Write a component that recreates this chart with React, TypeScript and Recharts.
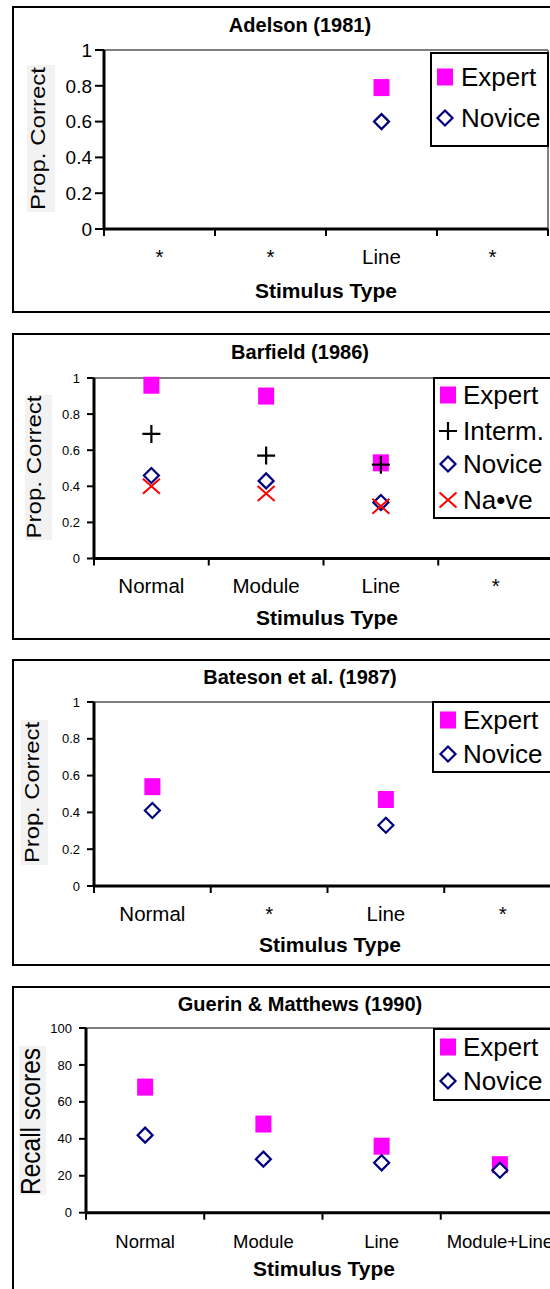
import React from 'react';
import { ScatterChart, Scatter, XAxis, YAxis, ReferenceLine, Legend } from 'recharts';

const FONT = '"Liberation Sans", Arial, Helvetica, sans-serif';

// Adelson (1981)
const adelsonCategories = ['*', '*', 'Line', '*'];
const adelsonExpert = [null, null, 0.79, null];
const adelsonNovice = [null, null, 0.6, null];

// Barfield (1986)
const barfieldCategories = ['Normal', 'Module', 'Line', '*'];
const barfieldExpert = [0.96, 0.9, 0.53, null];
const barfieldInterm = [0.69, 0.57, 0.52, null];
const barfieldNovice = [0.46, 0.43, 0.31, null];
const barfieldNaive = [0.4, 0.36, 0.29, null];

// Bateson et al. (1987)
const batesonCategories = ['Normal', '*', 'Line', '*'];
const batesonExpert = [0.54, null, 0.47, null];
const batesonNovice = [0.41, null, 0.33, null];

// Guerin & Matthews (1990)
const guerinCategories = ['Normal', 'Module', 'Line', 'Module+Line'];
const guerinExpert = [68, 48, 36, 26];
const guerinNovice = [42, 29, 27, 23];

const propTicks = [0, 0.2, 0.4, 0.6, 0.8, 1];
const recallTicks = [0, 20, 40, 60, 80, 100];
// integer = tick mark between categories, .5 = category label
const xTicks = [0, 0.5, 1, 1.5, 2, 2.5, 3, 3.5, 4];

type MarkerKind = 'square' | 'plus' | 'diamond' | 'cross';

interface Series {
  name: string;
  kind: MarkerKind;
  values: (number | null)[];
}

const Marker = ({ kind, cx, cy }: { kind: MarkerKind; cx: number; cy: number }) => {
  if (kind === 'square') {
    return <rect x={cx - 8} y={cy - 8.5} width={16} height={17} fill="#FF00FF" />;
  }
  if (kind === 'plus') {
    return (
      <path d={`M${cx - 9},${cy}H${cx + 9}M${cx},${cy - 9}V${cy + 9}`} stroke="#000" strokeWidth={2.2} fill="none" />
    );
  }
  if (kind === 'diamond') {
    return (
      <path
        d={`M${cx},${cy - 7.5}L${cx + 7.5},${cy}L${cx},${cy + 7.5}L${cx - 7.5},${cy}Z`}
        stroke="#000080"
        strokeWidth={2.2}
        fill="#fff"
      />
    );
  }
  return (
    <path
      d={`M${cx - 8.5},${cy - 7.5}L${cx + 8.5},${cy + 7.5}M${cx + 8.5},${cy - 7.5}L${cx - 8.5},${cy + 7.5}`}
      stroke="#FF0000"
      strokeWidth={2}
      fill="none"
    />
  );
};

interface Layout {
  top: number;
  titleY: number;
  plotLeft: number;
  plotTop: number;
  plotBottom: number;
  plotRight: number;
  yTickFont: number;
  yTickSize: number;
  yTickMargin: number;
  xLabelY: number;
  xLabelFont: number;
  axisTitleX: number;
  axisTitleY: number;
  yTitle: { cx: number; cy: number; len: number; font: number; bg: number[] };
  legend: { left: number; top: number; width: number; height: number; iconX: number; textX: number; rows: number[] };
}

const CHART_W = 620;
const CHART_H = 310;

interface PanelProps {
  title: string;
  categories: string[];
  series: Series[];
  yTicks: number[];
  yLabel: string;
  layout: Layout;
}

const Panel = ({ title, categories, series, yTicks, yLabel, layout: L }: PanelProps) => {
  const yMax = yTicks[yTicks.length - 1];
  const toChart = (pageY: number) => pageY - L.top;

  const renderXTick = (props: any) => {
    const { x, y, payload } = props;
    const v = payload.value as number;
    if (Number.isInteger(v)) {
      return <line x1={x} x2={x} y1={y} y2={y + 7} stroke="#000" strokeWidth={2} />;
    }
    const dy = L.xLabelY - L.plotBottom + L.xLabelFont * 0.36;
    return (
      <text x={x} y={y + dy} textAnchor="middle" fontSize={L.xLabelFont} fontFamily={FONT} fill="#000">
        {categories[Math.floor(v)]}
      </text>
    );
  };

  const renderYTitle = () => {
    const t = L.yTitle;
    const cy = toChart(t.cy);
    return (
      <g>
        <rect x={t.bg[0]} y={toChart(t.bg[1])} width={t.bg[2]} height={t.bg[3]} fill="#f2f2f2" />
        <text
          x={t.cx}
          y={cy}
          transform={`rotate(-90 ${t.cx} ${cy})`}
          textAnchor="middle"
          dominantBaseline="central"
          fontSize={t.font}
          fontFamily={FONT}
          textLength={t.len}
          lengthAdjust="spacingAndGlyphs"
          fill="#000"
        >
          {yLabel}
        </text>
      </g>
    );
  };

  const renderXTitle = () => (
    <text
      x={L.axisTitleX}
      y={toChart(L.axisTitleY) + 21 * 0.36}
      textAnchor="middle"
      fontSize={21}
      fontWeight="bold"
      fontFamily={FONT}
      fill="#000"
    >
      Stimulus Type
    </text>
  );

  const lg = L.legend;
  const renderLegend = () => (
    <div
      style={{
        position: 'relative',
        width: lg.width,
        height: lg.height,
        border: '2px solid #000',
        boxSizing: 'border-box',
        background: '#fff',
        fontFamily: FONT,
      }}
    >
      {series.map((s, i) => {
        const rowY = lg.rows[i] - lg.top - 2;
        return (
          <React.Fragment key={s.name}>
            <svg
              width={24}
              height={24}
              style={{ position: 'absolute', left: lg.iconX - lg.left - 2 - 12, top: rowY - 12 }}
            >
              <Marker kind={s.kind} cx={12} cy={12} />
            </svg>
            <span
              style={{
                position: 'absolute',
                left: lg.textX - lg.left - 2,
                top: rowY - 15,
                lineHeight: '30px',
                fontSize: 26,
                whiteSpace: 'nowrap',
                color: '#000',
              }}
            >
              {s.name}
            </span>
          </React.Fragment>
        );
      })}
    </div>
  );

  const plotBottomRel = L.plotBottom - L.top;

  return (
    <>
      <div
        style={{
          position: 'absolute',
          left: 12,
          top: L.top - 1,
          width: 620,
          height: 307,
          border: '2px solid #000',
          boxSizing: 'border-box',
        }}
      />
      <div
        style={{
          position: 'absolute',
          left: 0,
          top: L.titleY - 12,
          width: 600,
          lineHeight: '24px',
          textAlign: 'center',
          fontFamily: FONT,
          fontWeight: 'bold',
          fontSize: 20,
          color: '#000',
        }}
      >
        {title}
      </div>
      <div style={{ position: 'absolute', left: 0, top: L.top }}>
        <ScatterChart
          width={CHART_W}
          height={CHART_H}
          margin={{ top: L.plotTop - L.top, right: CHART_W - L.plotRight, bottom: 0, left: 0 }}
        >
          <ReferenceLine y={yMax} stroke="#808080" strokeWidth={2} />
          <ReferenceLine x={4} stroke="#808080" strokeWidth={2} />
          <XAxis
            type="number"
            dataKey="x"
            domain={[0, 4]}
            ticks={xTicks}
            interval={0}
            height={CHART_H - plotBottomRel}
            tickSize={0}
            tickMargin={0}
            tickLine={false}
            axisLine={{ stroke: '#000', strokeWidth: 3 }}
            tick={renderXTick}
            label={{ content: renderXTitle }}
          />
          <YAxis
            type="number"
            dataKey="y"
            domain={[0, yMax]}
            ticks={yTicks}
            interval={0}
            width={L.plotLeft}
            tickSize={L.yTickSize}
            tickMargin={L.yTickMargin}
            tickLine={{ stroke: '#000', strokeWidth: 2 }}
            axisLine={{ stroke: '#000', strokeWidth: 3 }}
            tick={{ fill: '#000', fontSize: L.yTickFont, fontFamily: FONT }}
            label={{ content: renderYTitle }}
          />
          <Legend
            layout="vertical"
            align="center"
            verticalAlign="middle"
            content={renderLegend}
            wrapperStyle={{ left: lg.left, top: lg.top - L.top, width: lg.width, height: lg.height }}
          />
          {series.map((s) => {
            const points = categories
              .map((_, i) => ({ x: i + 0.5, y: s.values[i] }))
              .filter((p) => p.y !== null && p.y !== undefined);
            return (
              <Scatter
                key={s.name}
                name={s.name}
                data={points}
                isAnimationActive={false}
                shape={(p: any) => <Marker kind={s.kind} cx={p.cx} cy={p.cy} />}
              />
            );
          })}
        </ScatterChart>
      </div>
    </>
  );
};

const adelsonLayout: Layout = {
  top: 7, titleY: 25, plotLeft: 104, plotTop: 50, plotBottom: 229, plotRight: 548,
  yTickFont: 19, yTickSize: 9, yTickMargin: 3,
  xLabelY: 257, xLabelFont: 20.5, axisTitleX: 326, axisTitleY: 290,
  yTitle: { cx: 37, cy: 138.5, len: 143, font: 21, bg: [27, 65, 28, 147] },
  legend: { left: 430, top: 52, width: 119, height: 95, iconX: 445, textX: 461, rows: [77, 118] },
};

const barfieldLayout: Layout = {
  top: 334, titleY: 352, plotLeft: 94, plotTop: 378, plotBottom: 558.5, plotRight: 553,
  yTickFont: 13, yTickSize: 7, yTickMargin: 7,
  xLabelY: 586, xLabelFont: 20.5, axisTitleX: 327, axisTitleY: 617,
  yTitle: { cx: 33, cy: 467, len: 143, font: 21, bg: [25, 395, 27, 145] },
  legend: { left: 433, top: 377, width: 140, height: 142, iconX: 448, textX: 463, rows: [395, 431, 464, 500] },
};

const batesonLayout: Layout = {
  top: 660, titleY: 677, plotLeft: 94, plotTop: 702, plotBottom: 886, plotRight: 561,
  yTickFont: 13, yTickSize: 7, yTickMargin: 7,
  xLabelY: 914, xLabelFont: 20.5, axisTitleX: 330, axisTitleY: 944,
  yTitle: { cx: 31, cy: 792.5, len: 141, font: 21, bg: [21, 720, 27, 145] },
  legend: { left: 432, top: 701, width: 140, height: 72, iconX: 448, textX: 463, rows: [720, 754] },
};

const guerinLayout: Layout = {
  top: 987, titleY: 1004, plotLeft: 86, plotTop: 1028, plotBottom: 1212.7, plotRight: 559,
  yTickFont: 13, yTickSize: 7, yTickMargin: 7,
  xLabelY: 1241.5, xLabelFont: 18.5, axisTitleX: 324, axisTitleY: 1268,
  yTitle: { cx: 31, cy: 1121.5, len: 147, font: 27, bg: [19, 1046, 27, 149] },
  legend: { left: 433, top: 1028, width: 140, height: 73, iconX: 448, textX: 463, rows: [1047, 1081] },
};

export default function App() {
  return (
    <div
      style={{
        position: 'absolute',
        left: 0,
        top: 0,
        width: 550,
        height: 1289,
        overflow: 'hidden',
        background: '#fff',
      }}
    >
      <Panel
        title="Adelson (1981)"
        categories={adelsonCategories}
        series={[
          { name: 'Expert', kind: 'square', values: adelsonExpert },
          { name: 'Novice', kind: 'diamond', values: adelsonNovice },
        ]}
        yTicks={propTicks}
        yLabel="Prop. Correct"
        layout={adelsonLayout}
      />
      <Panel
        title="Barfield (1986)"
        categories={barfieldCategories}
        series={[
          { name: 'Expert', kind: 'square', values: barfieldExpert },
          { name: 'Interm.', kind: 'plus', values: barfieldInterm },
          { name: 'Novice', kind: 'diamond', values: barfieldNovice },
          { name: 'Na•ve', kind: 'cross', values: barfieldNaive },
        ]}
        yTicks={propTicks}
        yLabel="Prop. Correct"
        layout={barfieldLayout}
      />
      <Panel
        title="Bateson et al. (1987)"
        categories={batesonCategories}
        series={[
          { name: 'Expert', kind: 'square', values: batesonExpert },
          { name: 'Novice', kind: 'diamond', values: batesonNovice },
        ]}
        yTicks={propTicks}
        yLabel="Prop. Correct"
        layout={batesonLayout}
      />
      <Panel
        title="Guerin & Matthews (1990)"
        categories={guerinCategories}
        series={[
          { name: 'Expert', kind: 'square', values: guerinExpert },
          { name: 'Novice', kind: 'diamond', values: guerinNovice },
        ]}
        yTicks={recallTicks}
        yLabel="Recall scores"
        layout={guerinLayout}
      />
    </div>
  );
}
